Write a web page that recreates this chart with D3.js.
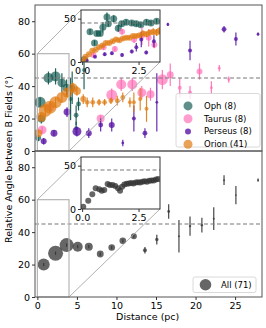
<!DOCTYPE html>
<html>
<head>
<meta charset="utf-8">
<script src="https://cdn.jsdelivr.net/npm/d3@7"></script>
<style>
  body { margin: 0; background: #fff; }
  svg text { font-family: "DejaVu Sans", sans-serif; }
</style>
</head>
<body>
<svg id="chart" width="266" height="328"></svg>
<script>
// ---- data ----
// top panel, coarse bins per cloud group
const ophDist   = [0.1, 0.35, 0.5, 1.4, 2.3, 3.1, 3.7, 4.2, 4.4, 4.9, 5.2, 4.9, 5.9];
const ophAngle  = [8, 30, 20, 45, 46, 42, 39, 32, 39, 22, 29, 14, 50];
const ophErr    = [2, 3, 3, 4, 5, 6, 5, 13, 10, 6, 4, 4, 12];
const ophWeight = [9, 30, 16, 25, 25, 20, 16, 4, 9, 6, 6, 4, 4];

const tauDist   = [0.6, 1.6, 8.0, 9.4, 10.6, 12.0, 13.2, 14.3, 15.8, 16.8, 18.0, 19.3, 20.5, 22.0, 23.0, 24.2];
const tauAngle  = [13, 27, 20, 34.5, 41, 41, 36, 35, 44, 47, 39, 36, 49, 39, 51, 44];
const tauErr    = [2, 3, 2, 4, 4, 4, 4, 4, 6, 7, 6, 4, 5, 4, 2, 2];
const tauWeight = [20, 16, 16, 30, 25, 25, 20, 16, 30, 12, 4, 4, 9, 2, 2, 2];

const perDist   = [0.8, 2.1, 3.75, 5.0, 6.5, 8.0, 9.4, 10.8, 12.2, 13.6, 15.1, 16.5, 19.3, 23.6, 25.1, 27.9];
const perAngle  = [6, 11, 24, 12, 11, 16, 16, 5, 20, 11, 30, 78, 62, 75, 69, 72];
const perErr    = [2, 2, 3, 3, 3, 4, 4, 2, 8, 3, 18, 1, 6, 2, 4, 1];
const perWeight = [9, 12, 12, 20, 9, 6, 9, 2, 4, 6, 2, 2, 4, 6, 4, 2];

const oriDist   = [0.1, 0.5, 1.0, 1.6, 2.3, 3.1, 3.8, 4.5, 5.0, 5.8, 6.3, 7.0, 7.8, 8.5, 9.3, 10.1, 10.8, 11.7, 12.2, 13.0, 13.8];
const oriAngle  = [11, 21, 25, 27, 30, 33, 36, 39, 37, 32, 30, 30, 30, 30, 31, 31, 33, 30, 30, 32, 26];
const oriErr    = [2, 2, 3, 3, 3, 3, 3, 3, 3, 3, 3, 3, 2, 2, 2, 3, 3, 3, 6, 7, 8];
const oriWeight = [16, 25, 42, 42, 36, 30, 25, 20, 16, 9, 6, 6, 6, 6, 6, 6, 6, 4, 4, 4, 4];

// bottom panel, all clouds
const allDist   = [0.8, 2.3, 3.7, 5.1, 6.5, 7.95, 9.4, 10.8, 12.2, 13.6, 15.1, 16.6, 17.9, 19.3, 20.8, 22.3, 23.6, 25.1, 27.9];
const allAngle  = [20, 27, 32, 31, 31, 26.5, 30.5, 34.6, 37.5, 28.8, 35.4, 52.7, 37.5, 43.7, 44.3, 48.3, 72, 62.8, 72];
const allErr    = [1, 1, 1, 1, 1, 1, 1, 1, 1, 2, 3, 4.4, 10, 6, 4.6, 7, 3, 5.6, 1];
const allWeight = [36, 56, 49, 25, 16, 12, 11, 11, 9, 4, 3, 2, 1, 1.5, 1.5, 1, 1, 0.7, 0.7];

// insets, fine bins near 0 pc
const ophInDist  = [0.1, 0.35, 0.55, 0.65, 0.8, 0.92, 1.1, 1.16, 1.4, 1.6, 1.75, 1.95, 2.2, 2.4, 2.6, 2.85, 3.05, 3.3];
const ophInAngle = [3, 35, 22, 33, 33, 40, 52, 44, 50, 39, 44, 46, 45, 44, 43, 46, 45, 47];
const ophInErr   = [1, 3, 3, 3, 3, 6, 5, 3, 4, 4, 3, 3, 3, 3, 3, 3, 3, 3];

const tauInDist  = [0.5, 0.95, 1.45, 1.77, 2.3, 2.65, 2.95, 3.2];
const tauInAngle = [8, 17, 15, 35, 26, 30, 28, 20];
const tauInErr   = [2, 3, 3, 3, 4, 10, 10, 4];

const perInDist  = [0.2, 0.57, 1.0, 1.32, 1.77, 2.2, 2.4, 2.62, 2.84, 3.18];
const perInAngle = [2, 6, 9, 10, 8, 12, 17, 26, 11, 24];
const perInErr   = [1, 1, 2, 2, 2, 2, 5, 9, 2, 7];

const oriInDist  = [0.05, 0.15, 0.3, 0.45, 0.6, 0.75, 0.9, 1.05, 1.2, 1.35, 1.5, 1.65, 1.8, 1.95, 2.1, 2.25, 2.4, 2.55, 2.7, 2.85, 3.0, 3.15, 3.3, 3.42];
const oriInAngle = [2, 6, 9, 13, 14, 17, 19, 22, 22, 24, 26, 25, 27, 28, 28, 30, 30, 31, 33, 32, 34, 35, 34, 36];
const oriInErr   = [1, 1, 1, 1, 1, 2, 2, 2, 2, 2, 2, 2, 2, 2, 2, 2, 2, 2, 3, 3, 3, 4, 4, 4];

const allInDist  = [0.05, 0.27, 0.45, 0.6, 0.76, 0.87, 0.98, 1.13, 1.23, 1.35, 1.47, 1.59, 1.68, 1.77, 1.87, 1.97, 2.07, 2.17, 2.27, 2.37, 2.47, 2.57, 2.67, 2.77, 2.87, 2.97, 3.07, 3.17, 3.27, 3.37];
const allInAngle = [2.7, 9.6, 17, 24, 22.7, 21, 22, 28.8, 27.7, 27.7, 26.5, 24, 21, 25.7, 28.4, 29, 29.5, 30, 29.5, 30.5, 31, 30.5, 31.5, 32, 31.5, 32.5, 33, 33, 34, 34.5];

const groupNames  = ["Oph (8)", "Taurus (8)", "Perseus (8)", "Orion (41)"];
const allName     = "All (71)";
const yTicks      = [0, 20, 40, 60, 80];
const xTicks      = [0, 5, 10, 15, 20, 25];
const insetYTicks = [0, 50];
const insetXTicks = [0, 2.5];
const refAngle    = 45;
const zoomBox     = [0, 4, 0, 60];

// ---- layout ----
const svg = d3.select("#chart");
const colors = { oph: "#0b5349", tau: "#ff69b4", per: "#5a17a8", ori: "#e07b12", all: "#333333" };
const alphas = { oph: 0.65, tau: 0.65, per: 0.8, ori: 0.7, all: 0.75 };

const x = d3.scaleLinear().domain([-0.3, 28.4]).range([35, 262]);
const yTop = d3.scaleLinear().domain([0, 90]).range([151, 5]);
const yBot = d3.scaleLinear().domain([0, 90]).range([297, 151]);
const insetX = d3.scaleLinear().domain([-0.05, 3.45]).range([81, 160]);
const insetYTop = d3.scaleLinear().domain([0, 60]).range([62, 10]);
const insetYBot = d3.scaleLinear().domain([0, 60]).range([209, 157]);
const rScale = d3.scaleSqrt().domain([0, 100]).range([0, 10]);

function zip(dist, angle, err, weight) {
  return dist.map((d, i) => ({ d: d, a: angle[i], e: err ? err[i] : 0, w: weight ? weight[i] : null }));
}

const mainTop = [
  { key: "oph", rows: zip(ophDist, ophAngle, ophErr, ophWeight) },
  { key: "tau", rows: zip(tauDist, tauAngle, tauErr, tauWeight) },
  { key: "per", rows: zip(perDist, perAngle, perErr, perWeight) },
  { key: "ori", rows: zip(oriDist, oriAngle, oriErr, oriWeight) }
];
const insetTop = [
  { key: "oph", r: 3.5, rows: zip(ophInDist, ophInAngle, ophInErr) },
  { key: "tau", r: 3, rows: zip(tauInDist, tauInAngle, tauInErr) },
  { key: "per", r: 2, rows: zip(perInDist, perInAngle, perInErr) },
  { key: "ori", r: 3, rows: zip(oriInDist, oriInAngle, oriInErr) }
];

let clipId = 0;
function clipRect(x0, y0, w, h) {
  const id = "clip" + (clipId++);
  svg.append("clipPath").attr("id", id)
    .append("rect").attr("x", x0).attr("y", y0).attr("width", w).attr("height", h);
  return "url(#" + id + ")";
}

// points + error bars for a list of series
function drawSeries(g, series, xs, ys, fixedR) {
  series.forEach(s => {
    const grp = g.append("g");
    grp.selectAll("line.err").data(s.rows).enter().append("line")
      .attr("x1", r => xs(r.d)).attr("x2", r => xs(r.d))
      .attr("y1", r => ys(r.a - r.e)).attr("y2", r => ys(r.a + r.e))
      .attr("stroke", colors[s.key]).attr("stroke-width", 1.2)
      .attr("stroke-opacity", 0.9);
    grp.selectAll("circle").data(s.rows).enter().append("circle")
      .attr("cx", r => xs(r.d)).attr("cy", r => ys(r.a))
      .attr("r", r => r.w != null ? rScale(r.w) : (s.r || fixedR))
      .attr("fill", colors[s.key]).attr("fill-opacity", alphas[s.key]);
  });
}

function styleAxis(ax, size) {
  ax.select(".domain").remove();
  ax.attr("font-family", "DejaVu Sans").attr("font-size", size);
  ax.selectAll(".tick line").attr("stroke", "#333");
  ax.selectAll(".tick text").attr("fill", "#000");
}

function panel(ys, seriesList, insetYs, insetList, showX) {
  const [y0, y1] = [ys.range()[1], ys.range()[0]];
  const plot = svg.append("g").attr("clip-path", clipRect(35, y0, 227, y1 - y0));
  drawSeries(plot, seriesList, x, ys);

  // reference line
  plot.append("line")
    .attr("x1", 35).attr("x2", 262).attr("y1", ys(refAngle)).attr("y2", ys(refAngle))
    .attr("stroke", "#777").attr("stroke-width", 1.1).attr("stroke-dasharray", "4,2.5");

  // zoom rectangle + connectors
  svg.append("rect")
    .attr("x", x(zoomBox[0])).attr("y", ys(zoomBox[3]))
    .attr("width", x(zoomBox[1]) - x(zoomBox[0])).attr("height", ys(zoomBox[2]) - ys(zoomBox[3]))
    .attr("fill", "none").attr("stroke", "#b5b5b5").attr("stroke-width", 1.2);
  const ix = insetX.range(), iy = insetYs.range();
  svg.append("line").attr("x1", x(zoomBox[0])).attr("y1", ys(zoomBox[3]))
    .attr("x2", ix[0]).attr("y2", iy[1]).attr("stroke", "#a8a8a8").attr("stroke-width", 0.9);
  svg.append("line").attr("x1", x(zoomBox[1])).attr("y1", ys(zoomBox[2]))
    .attr("x2", ix[1]).attr("y2", iy[0]).attr("stroke", "#a8a8a8").attr("stroke-width", 0.9);

  // spines
  svg.append("rect").attr("x", 35).attr("y", y0).attr("width", 227).attr("height", y1 - y0)
    .attr("fill", "none").attr("stroke", "#555").attr("stroke-width", 1);

  const ay = svg.append("g").attr("transform", "translate(35,0)")
    .call(d3.axisLeft(ys).tickValues(yTicks).tickSize(3).tickPadding(2));
  styleAxis(ay, 9.5);
  if (showX) {
    const axb = svg.append("g").attr("transform", `translate(0,${y1})`)
      .call(d3.axisBottom(x).tickValues(xTicks).tickSize(3).tickPadding(2));
    styleAxis(axb, 9.5);
  }

  // inset
  const ig = svg.append("g");
  ig.append("rect").attr("x", ix[0]).attr("y", iy[1]).attr("width", ix[1] - ix[0]).attr("height", iy[0] - iy[1])
    .attr("fill", "#fff");
  const ip = ig.append("g").attr("clip-path", clipRect(ix[0], iy[1], ix[1] - ix[0], iy[0] - iy[1]));
  drawSeries(ip, insetList, insetX, insetYs, 3);
  ip.append("line").attr("x1", ix[0]).attr("x2", ix[1])
    .attr("y1", insetYs(refAngle)).attr("y2", insetYs(refAngle))
    .attr("stroke", "#777").attr("stroke-width", 1.1).attr("stroke-dasharray", "4,2.5");
  ig.append("rect").attr("x", ix[0]).attr("y", iy[1]).attr("width", ix[1] - ix[0]).attr("height", iy[0] - iy[1])
    .attr("fill", "none").attr("stroke", "#333").attr("stroke-width", 1);
  const iay = ig.append("g").attr("transform", `translate(${ix[0]},0)`)
    .call(d3.axisLeft(insetYs).tickValues(insetYTicks).tickSize(3).tickPadding(2));
  styleAxis(iay, 9.5);
  const iax = ig.append("g").attr("transform", `translate(0,${iy[0]})`)
    .call(d3.axisBottom(insetX).tickValues(insetXTicks).tickFormat(d3.format(".1f")).tickSize(3).tickPadding(2));
  styleAxis(iax, 9.5);
}

panel(yTop, mainTop, insetYTop, insetTop, false);
panel(yBot, [{ key: "all", rows: zip(allDist, allAngle, allErr, allWeight) }],
  insetYBot, [{ key: "all", r: 3, rows: zip(allInDist, allInAngle, null) }], true);

// ---- legends ----
function legend(x0, y0, w, h, names, keys, radii, rowH, markX, textX) {
  const lg = svg.append("g");
  lg.append("rect").attr("x", x0).attr("y", y0).attr("width", w).attr("height", h).attr("rx", 2)
    .attr("fill", "#fff").attr("fill-opacity", 0.8).attr("stroke", "#d0d0d0").attr("stroke-width", 0.8);
  names.forEach((n, i) => {
    const cy = y0 + 6 + rowH / 2 + i * rowH;
    lg.append("circle").attr("cx", markX).attr("cy", cy).attr("r", radii[i])
      .attr("fill", colors[keys[i]]).attr("fill-opacity", alphas[keys[i]]);
    lg.append("text").attr("x", textX).attr("y", cy).attr("dy", "0.35em")
      .attr("font-size", 8.5).attr("fill", "#000").text(n);
  });
}
legend(176, 93.5, 84, 53.5, groupNames, ["oph", "tau", "per", "ori"], [4.5, 4.5, 3, 4.5], 12.8, 188, 204);
legend(193, 277, 63, 15.5, [allName], ["all"], [5.8], 3.5, 205.5, 221);

// ---- axis labels ----
svg.append("text").attr("x", 147.7).attr("y", 320).attr("text-anchor", "middle")
  .attr("font-size", 9.5).text("Distance (pc)");
svg.append("text").attr("transform", "translate(12,159.5) rotate(-90)").attr("text-anchor", "middle")
  .attr("font-size", 9.5).text("Relative Angle between B Fields (°)");
</script>
</body>
</html>
